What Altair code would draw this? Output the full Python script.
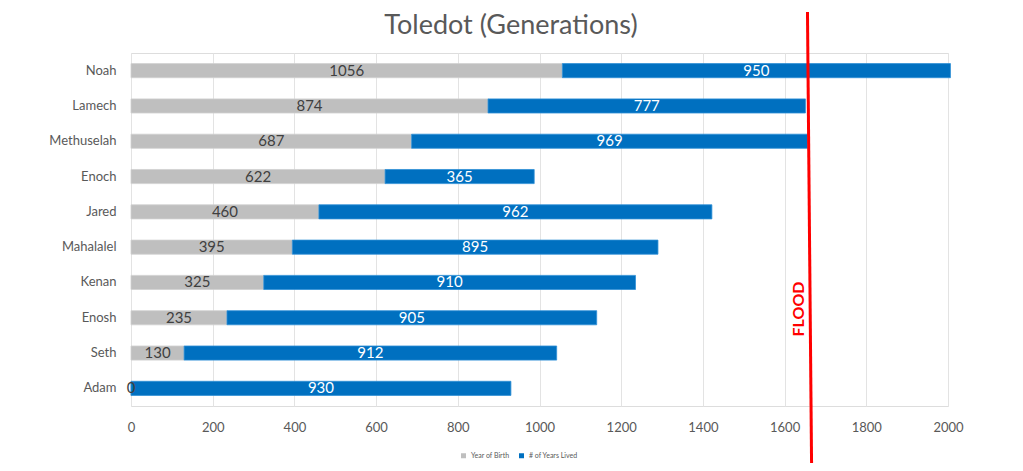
import altair as alt
import pandas as pd

names = ["Noah", "Lamech", "Methuselah", "Enoch", "Jared", "Mahalalel", "Kenan", "Enosh", "Seth", "Adam"]
birth = [1056, 874, 687, 622, 460, 395, 325, 235, 130, 0]
lived = [950, 777, 969, 365, 962, 895, 910, 905, 912, 930]
series = ["Year of Birth", "# of Years Lived"]
colors = ["#BFBFBF", "#0070C0"]
label_colors = ["#404040", "#FFFFFF"]
flood_year = 1656
flood_year_end = 1666
x_ticks = [0, 200, 400, 600, 800, 1000, 1200, 1400, 1600, 1800, 2000]
title_text = "Toledot (Generations)"
FONT = "Lato, sans-serif"

rows = []
for n, b, l in zip(names, birth, lived):
    rows.append({"name": n, "series": series[0], "start": 0, "end": b, "value": b,
                 "mid": b / 2, "lc": label_colors[0]})
    rows.append({"name": n, "series": series[1], "start": b, "end": b + l, "value": l,
                 "mid": b + l / 2, "lc": label_colors[1]})
df = pd.DataFrame(rows)

xscale = alt.Scale(domain=[0, 2000], nice=False)
yenc = alt.Y("name:N", sort=names, title=None,
             scale=alt.Scale(paddingInner=0.6, paddingOuter=0.3),
             axis=alt.Axis(domain=False, ticks=False, labelFontSize=13, labelColor="#595959",
                           labelPadding=15, labelFont=FONT, grid=False))

bars = alt.Chart(df).mark_bar(strokeWidth=0.8).encode(
    x=alt.X("start:Q", scale=xscale, title=None,
            axis=alt.Axis(values=x_ticks, domain=False, ticks=False, labelFontSize=13,
                          labelColor="#595959", labelPadding=15, labelFont=FONT,
                          labelFlush=False, gridColor="#E3E3E3", format="d")),
    x2="end:Q",
    y=yenc,
    color=alt.Color("series:N", scale=alt.Scale(domain=series, range=colors),
                    legend=alt.Legend(title=None, orient="none", direction="horizontal",
                                      legendX=329, legendY=399, symbolType="square",
                                      symbolSize=25, labelFontSize=7, labelColor="#595959",
                                      labelFont=FONT, columnPadding=8, symbolStrokeWidth=0)),
    stroke=alt.Stroke("series:N", scale=alt.Scale(domain=series, range=["#D0D0D0", "#2E8FD6"]),
                      legend=None),
)

labels = alt.Chart(df).mark_text(fontSize=15, font=FONT).encode(
    x=alt.X("mid:Q", scale=xscale),
    y=alt.Y("name:N", sort=names),
    text=alt.Text("value:Q"),
    color=alt.Color("lc:N", scale=None),
)

flood_df = pd.DataFrame({"x": [flood_year], "x2": [flood_year_end], "label": ["FLOOD"]})
flood_line = alt.Chart(flood_df).mark_rule(color="#FF0000", strokeWidth=3).encode(
    x=alt.X("x:Q", scale=xscale),
    x2="x2:Q",
    y=alt.value(-41),
    y2=alt.value(410),
)
flood_text = alt.Chart(flood_df).mark_text(
    angle=270, color="#FF0000", fontSize=16, fontWeight="bold", font=FONT,
    baseline="bottom", align="center"
).encode(
    x=alt.X("x:Q", scale=xscale),
    y=alt.value(256),
    text="label:N",
)

title_df = pd.DataFrame({"t": [title_text]})
title = alt.Chart(title_df).mark_text(
    fontSize=27, color="#595959", font=FONT, align="center", baseline="middle"
).encode(
    x=alt.value(380),
    y=alt.value(-27),
    text="t:N",
)

chart = alt.layer(bars, labels, flood_line, flood_text, title).properties(
    width=817, height=353,
    padding={"left": 123, "top": 45, "right": 67, "bottom": 57},
    autosize=alt.AutoSizeParams(type="none"),
).configure_view(stroke="transparent", strokeWidth=0).configure(background="white")

chart.save("out.html", embed_options={"renderer": "svg", "actions": False})
